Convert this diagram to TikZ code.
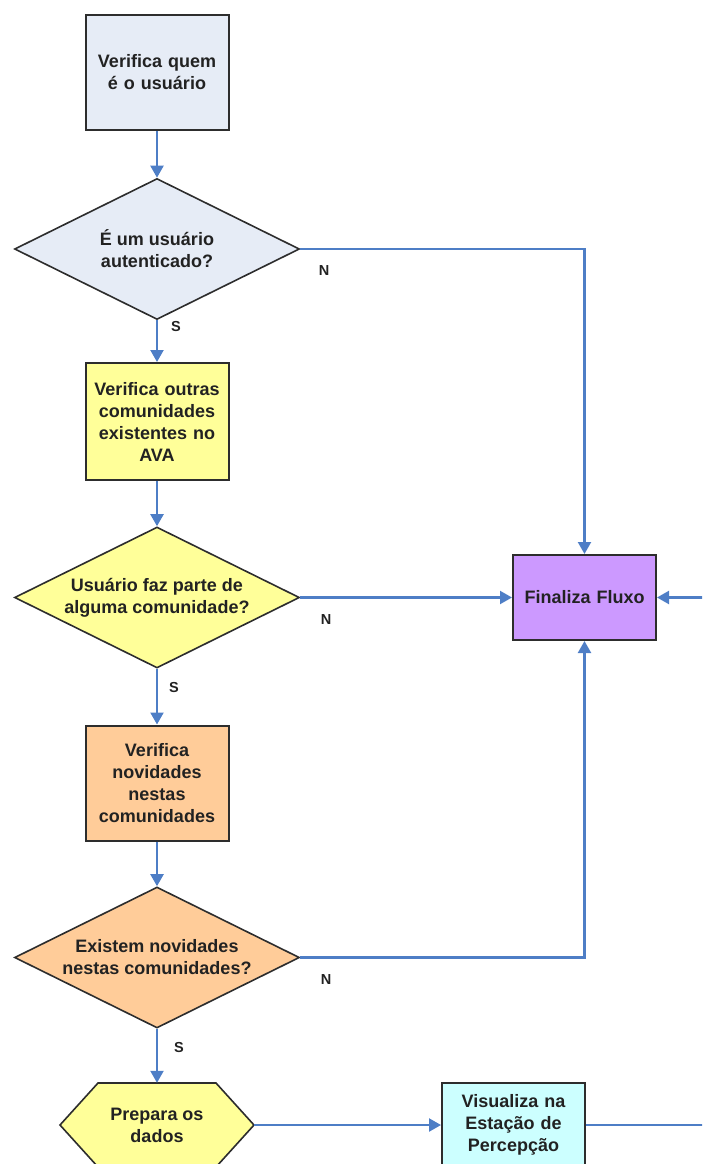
\documentclass[tikz,border=0pt]{standalone}
\usepackage{fontspec}
\setmainfont{Liberation Sans}
\usetikzlibrary{shapes.geometric,arrows.meta,calc}

\definecolor{flow}{RGB}{78,126,198}
\definecolor{edge}{RGB}{45,45,45}
\definecolor{ink}{RGB}{34,34,34}
\definecolor{fillgray}{RGB}{230,236,246}
\definecolor{fillyellow}{RGB}{255,255,153}
\definecolor{fillorange}{RGB}{255,204,153}
\definecolor{fillpurple}{RGB}{204,153,255}
\definecolor{fillcyan}{RGB}{204,255,255}

\begin{document}
\begin{tikzpicture}[x=1pt,y=-1pt,
  txt/.style={font=\fontsize{18}{22}\selectfont\bfseries, text=ink, align=center},
  stepbox/.style={txt, draw=edge, line width=2pt, rectangle, inner sep=0pt,
    minimum width=143pt, text width=136pt},
  decision/.style={draw=edge, line width=1.6pt, diamond, inner sep=0pt,
    minimum width=285pt, minimum height=141pt},
  answer/.style={font=\fontsize{14.5}{16}\selectfont\bfseries, text=ink},
  flowline/.style={draw=flow, line width=2.2pt,
    -{Triangle[length=12pt,width=13pt]}},
  plainline/.style={draw=flow, line width=2.2pt},
  hexshape/.style={draw=edge, line width=1.6pt, fill=fillyellow, line join=miter}
]
\useasboundingbox (0,0) rectangle (702,1164);
\clip (0,0) rectangle (702,1164);

% process steps
\node[stepbox, fill=fillgray, minimum height=115pt] (v1) at (157,72.5)
  {Verifica quem\\é o usuário};
\node[stepbox, fill=fillyellow, minimum height=117pt] (v2) at (157,421.5)
  {Verifica outras\\comunidades\\existentes no\\AVA};
\node[stepbox, fill=fillorange, minimum height=115pt] (v3) at (157,783)
  {Verifica\\novidades\\nestas\\comunidades};
\node[stepbox, fill=fillpurple, minimum height=85pt] (fin) at (584.5,597.5)
  {Finaliza Fluxo};
\node[stepbox, fill=fillcyan, minimum height=84pt] (vis) at (513.5,1125)
  {Visualiza na\\Estação de\\Percepção};

% decisions
\node[decision, fill=fillgray] (d1) at (157,249) {};
\node[txt] (d1t) at (d1) {É um usuário\\autenticado?};
\node[decision, fill=fillyellow] (d2) at (157,597.5) {};
\node[txt] (d2t) at (d2) {Usuário faz parte de\\alguma comunidade?};
\node[decision, fill=fillorange] (d3) at (157,957.5) {};
\node[txt] (d3t) at (d3) {Existem novidades\\nestas comunidades?};

% preparation hexagon
\coordinate (hexc) at (157,1125);
\draw[hexshape] ($(hexc)+(-97,0)$) -- ($(hexc)+(-59,-42)$) -- ($(hexc)+(59,-42)$)
  -- ($(hexc)+(97,0)$) -- ($(hexc)+(59,42)$) -- ($(hexc)+(-59,42)$) -- cycle;
\node[txt, minimum width=194pt, minimum height=84pt, inner sep=0pt] (hex) at (hexc)
  {Prepara os\\dados};

% free ends at the right margin
\coordinate (visout) at (710,1125);
\coordinate (finin) at (710,597.5);

% connectors
\draw[flowline] (v1.south) -- (d1.north);
\draw[flowline] (d1.south) -- (v2.north);
\draw[flowline] (v2.south) -- (d2.north);
\draw[flowline] (d2.south) -- (v3.north);
\draw[flowline] (v3.south) -- (d3.north);
\draw[flowline] (d3.south) -- (hex.north);
\draw[flowline] (d1.east) -| (fin.north);
\draw[flowline] (d2.east) -- (fin.west);
\draw[flowline] (d3.east) -| (fin.south);
\draw[flowline] (hex.east) -- (vis.west);
\draw[plainline] (vis.east) -- (visout);
\draw[flowline] (finin) -- (fin.east);

% branch labels
\node[answer] (n1) at (324,271) {N};
\node[answer] (s1) at (176,327) {S};
\node[answer] (n2) at (326,620) {N};
\node[answer] (s2) at (174,688) {S};
\node[answer] (n3) at (326,979) {N};
\node[answer] (s3) at (179,1047) {S};
\end{tikzpicture}
\end{document}
